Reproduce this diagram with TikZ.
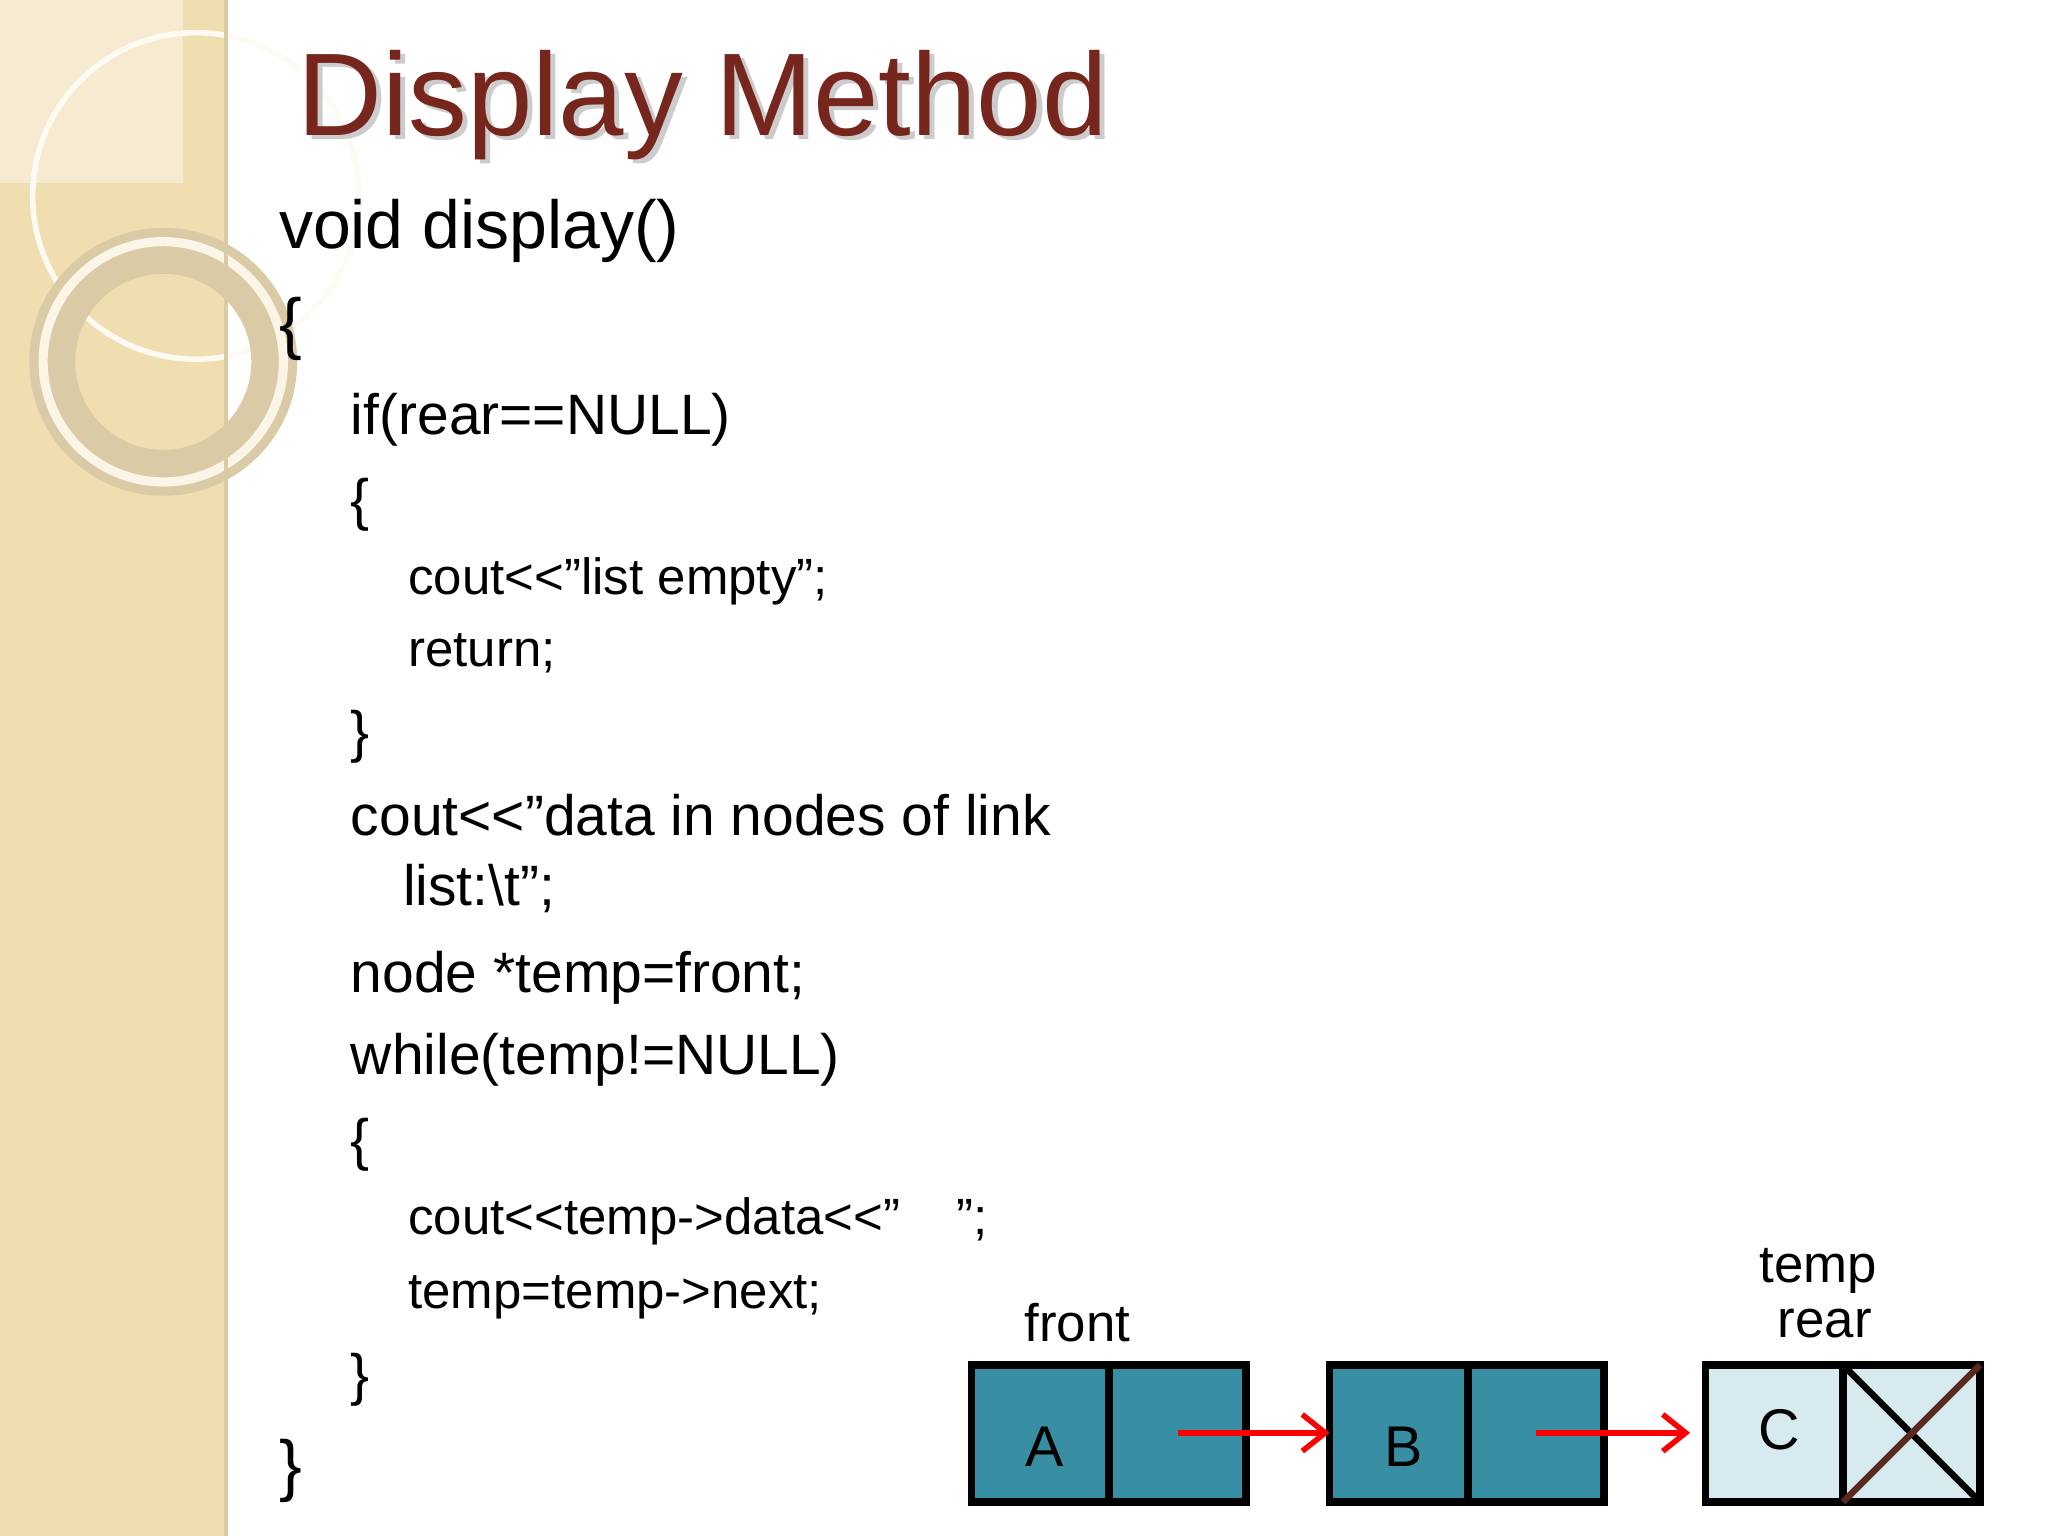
\documentclass[tikz,border=0pt]{standalone}
\usepackage{fontspec}
\setmainfont{Liberation Sans}
\usetikzlibrary{arrows.meta}
\definecolor{beige}{RGB}{240,222,176}
\definecolor{titlec}{RGB}{118,38,28}
\definecolor{teal}{RGB}{56,142,163}
\definecolor{lblue}{RGB}{214,234,240}
\begin{document}
\begin{tikzpicture}[x=0.01cm,y=-0.01cm,
  code/.style={anchor=base west,inner sep=0pt,font=\fontsize{14.8}{16}\selectfont},
  codeb/.style={anchor=base west,inner sep=0pt,font=\fontsize{12.4}{14}\selectfont},
  codec/.style={anchor=base west,inner sep=0pt,font=\fontsize{11.1}{13}\selectfont},
  lbl/.style={inner sep=0pt,font=\fontsize{11.5}{13}\selectfont},
  cell/.style={draw=black,line width=1.6pt},
  ptr/.style={red,line width=1.2pt,-{Straight Barb[length=5pt,width=8pt]}}]
\useasboundingbox (0,0) rectangle (1568,1176);
\fill[white] (0,0) rectangle (1568,1176);
% left strip
\fill[beige] (0,0) rectangle (173,1176);
\fill[beige!60!white] (0,0) rectangle (140,140);
\draw[white!85!beige,line width=1.2pt] (150,150) circle (125);
\draw[beige!80!gray,line width=10pt] (125,277) circle (85);
\draw[white!70!beige,line width=2pt] (125,277) circle (92);
\draw[beige!80!gray,line width=0.8pt] (173,0) -- (173,1176);
% title
\node[anchor=base west,inner sep=0pt,font=\fontsize{25.6}{28}\selectfont,text=gray!40] at (231,107) {Display Method};
\node (title)[anchor=base west,inner sep=0pt,font=\fontsize{25.6}{28}\selectfont,text=titlec] at (227,104) {Display Method};
% code
\node (l1)[code] at (213,190) {void display()};
\node (l2)[code] at (213,265) {\{};
\node (l3)[codeb] at (268,333) {if(rear==NULL)};
\node (l4)[codeb] at (268,398) {\{};
\node (l5)[codec] at (312,455) {cout<{}<"list empty";};
\node (l6)[codec] at (312,510) {return;};
\node (l7)[codeb] at (268,575) {\}};
\node (l8)[codeb] at (268,640) {cout<{}<"data in nodes of link};
\node (l9)[codeb] at (308,693) {list:\textbackslash t";};
\node (l10)[codeb] at (268,760) {node *temp=front;};
\node (l11)[codeb] at (268,823) {while(temp!=NULL)};
\node (l12)[codeb] at (268,888) {\{};
\node (l13)[codec] at (312,945) {cout<{}<temp->data<{}<"\ \ \ \ ";};
\node (l14)[codec] at (312,1002) {temp=temp->next;};
\node (l15)[codeb] at (268,1068) {\}};
\node (l16)[code] at (213,1140) {\}};
% list nodes
\fill[teal] (744,1045) rectangle (954,1150);
\draw[cell] (744,1045) rectangle (954,1150) (849,1045) -- (849,1150);
\node (A)[lbl,font=\fontsize{12.5}{14}\selectfont] at (800,1108) {A};
\coordinate (pa) at (902,1097);
\fill[teal] (1018,1045) rectangle (1228,1150);
\draw[cell] (1018,1045) rectangle (1228,1150) (1124,1045) -- (1124,1150);
\node (B)[lbl,font=\fontsize{12.5}{14}\selectfont] at (1075,1108) {B};
\coordinate (nb) at (1018,1097);
\coordinate (pb) at (1176,1097);
\fill[lblue] (1306,1045) rectangle (1516,1150);
\draw[cell] (1306,1045) rectangle (1516,1150) (1411,1045) -- (1411,1150);
\draw[line width=1.4pt] (1411,1045) -- (1516,1150);
\draw[line width=1.4pt,draw={rgb,255:red,90;green,40;blue,30}] (1516,1045) -- (1411,1150);
\node (C)[lbl,font=\fontsize{12.5}{14}\selectfont] at (1362,1095) {C};
\coordinate (nc) at (1294,1097);
\draw[ptr] (pa) -- (nb);
\draw[ptr] (pb) -- (nc);
\node (front)[lbl] at (825,1013) {front};
\node (temp)[lbl] at (1392,973) {temp};
\node (rear)[lbl] at (1397,1013) {rear};
\end{tikzpicture}
\end{document}
